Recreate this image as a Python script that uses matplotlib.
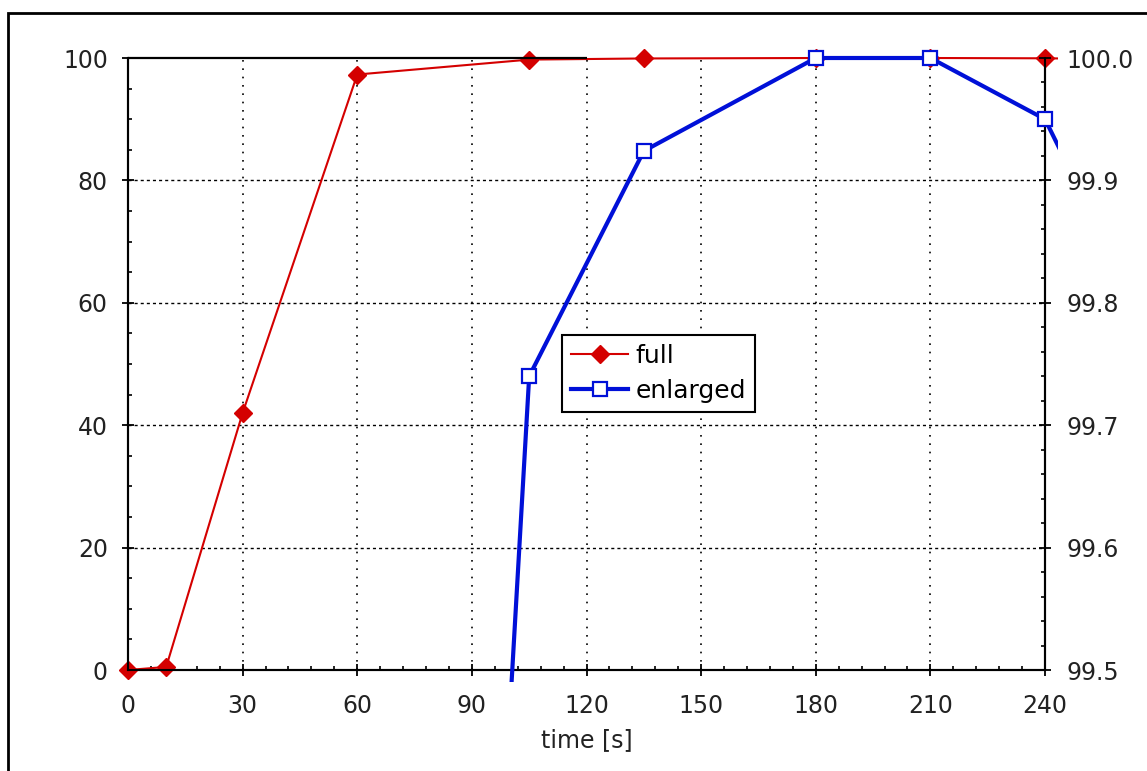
import matplotlib.pyplot as plt
from matplotlib.patches import Rectangle
from matplotlib.ticker import MultipleLocator, FormatStrFormatter

# data (the last point lies just past the plot edge)
time_s = [0, 10, 30, 60, 105, 135, 180, 210, 240, 270]
full = [0, 0.5, 42, 97.3, 99.74, 99.924, 100, 100, 99.95, 99.76]
enlarged = full  # same series, drawn on the zoomed right axis

x_ticks = [0, 30, 60, 90, 120, 150, 180, 210, 240]
left_lim = (0, 100)
right_lim = (99.5, 100.0)

plt.rcParams["font.family"] = ["DejaVu Sans"]
plt.rcParams["font.size"] = 17

W, H = 1147, 771
fig = plt.figure(figsize=(W / 100, H / 100), dpi=100)
ax = fig.add_axes([128 / W, 1 - 670 / H, (1045 - 128) / W, (670 - 58) / H])
ax2 = ax.twinx()

# clip region a little larger than the axes, like the original
pad_x, pad_y = 13 / 917, 12 / 612
clip = Rectangle((-pad_x, -pad_y), 1 + 2 * pad_x, 1 + 2 * pad_y, transform=ax.transAxes)

l1, = ax.plot(time_s, full, color="#d40000", lw=1.5, marker="D", ms=9.5,
              mec="#d40000", mfc="#d40000", label="full", zorder=3)
l2, = ax2.plot(time_s, enlarged, color="#0010d8", lw=3, marker="s", ms=9.5,
               mec="#0010d8", mfc="white", mew=1.6, label="enlarged", zorder=3)
l1.set_clip_path(clip)
l2.set_clip_path(clip)

ax.set_xlim(x_ticks[0], x_ticks[-1])
ax.set_ylim(*left_lim)
ax2.set_ylim(*right_lim)

ax.xaxis.set_major_locator(MultipleLocator(30))
ax.xaxis.set_minor_locator(MultipleLocator(6))
ax.yaxis.set_major_locator(MultipleLocator(20))
ax.yaxis.set_minor_locator(MultipleLocator(5))
ax2.yaxis.set_major_locator(MultipleLocator(0.1))
ax2.yaxis.set_minor_locator(MultipleLocator(0.02))
ax2.yaxis.set_major_formatter(FormatStrFormatter("%.1f"))

ax.tick_params(axis="x", which="major", direction="inout", length=9, width=1.3, pad=13)
ax.tick_params(axis="y", which="major", direction="inout", length=9, width=1.3, pad=10)
ax2.tick_params(axis="y", which="major", direction="inout", length=9, width=1.3, pad=11)
for a in (ax, ax2):
    a.tick_params(which="minor", direction="in", length=3, width=1.2)
    a.tick_params(labelsize=17, labelcolor="#222222")
    a.spines["top"].set_visible(False)
    for s in ("left", "right", "bottom"):
        a.spines[s].set_linewidth(1.5)

# grid: dotted verticals, dashed horizontals, only the interior lines
for xv in x_ticks[1:-1]:
    ax.axvline(xv, color="black", lw=1.2, ls=(0, (1, 4)), zorder=1)
for yv in [20, 40, 60, 80]:
    ax.axhline(yv, color="black", lw=1.0, ls=(0, (2.2, 2.2)), zorder=1)

# short black line on top of the plot
ax.hlines(left_lim[1], x_ticks[0], x_ticks[4], color="black", lw=1.6, zorder=4, clip_on=False)

ax.set_xlabel("time [s]", fontsize=17, labelpad=7, color="#222222")

leg = fig.legend(handles=[l1, l2], loc="upper left",
                 bbox_to_anchor=(562 / W, 1 - 335 / H), bbox_transform=fig.transFigure,
                 fontsize=18, fancybox=False, shadow=False, framealpha=1,
                 edgecolor="black", handlelength=2.3, handletextpad=0.3,
                 borderpad=0.35, labelspacing=0.45, borderaxespad=0)
leg.get_frame().set_linewidth(1.5)

fig.add_artist(Rectangle((8 / W, -0.1), 1.2, 1 - 13 / H + 0.1, transform=fig.transFigure,
                         fill=False, edgecolor="black", lw=2))

fig.savefig("out.png", dpi=100)
